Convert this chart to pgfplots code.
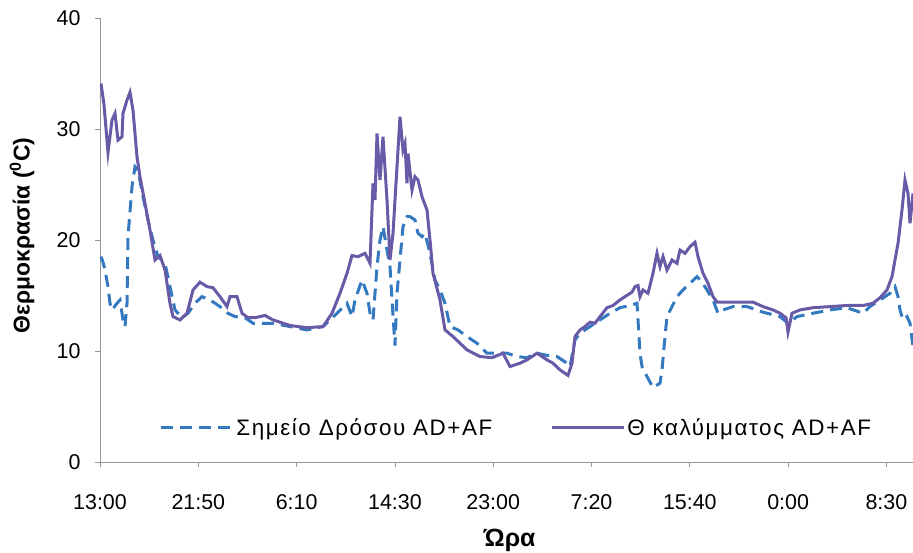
\documentclass[border=0pt]{standalone}
\usepackage{fontspec}
\setmainfont{Liberation Sans}
\usepackage{pgfplots}
\pgfplotsset{compat=1.18}
\definecolor{dewblue}{RGB}{52,120,192}
\definecolor{coverpurple}{RGB}{104,90,166}
\definecolor{axgray}{RGB}{150,150,150}
\begin{document}
\begin{tikzpicture}
\useasboundingbox (-100bp,-91bp) rectangle (813bp,462bp);
\begin{axis}[
  at={(0,0)}, anchor=south west,
  scale only axis, width=813bp, height=444bp,
  xmin=0, xmax=813, ymin=0, ymax=40,
  axis x line=bottom, axis y line=left,
  axis line style={-, axgray, line width=0.8bp},
  tick style={axgray, line width=0.8bp},
  tick align=outside, major tick length=5bp,
  xtick={0,98.3,196.6,294.9,393.2,491.5,589.8,688.1,786.4},
  xticklabels={13:00,21:50,6:10,14:30,23:00,7:20,15:40,0:00,8:30},
  ytick={0,10,20,30,40},
  /pgf/number format/assume math mode=true,
  tick label style={font=\fontsize{21.5}{25}\selectfont, black},
  xticklabel style={anchor=center, yshift=-35bp},
  yticklabel style={anchor=east, xshift=-11bp},
  xlabel={\textbf{Ώρα}},
  ylabel={\textbf{Θερμοκρασία (\textsuperscript{0}C)}},
  xlabel style={at={(axis description cs:0.504,-0.176)}, anchor=center, font=\fontsize{25}{29}\selectfont},
  ylabel style={at={(axis description cs:-0.0959,0.51)}, anchor=center, font=\fontsize{23}{27}\selectfont},
  legend columns=2,
  legend style={draw=none, fill=none, at={(axis description cs:0.512,0.077)}, anchor=center,
    font=\fontsize{22.5}{26}\selectfont\addfontfeature{LetterSpace=7},
    /tikz/every even column/.append style={column sep=56bp}},
  legend image code/.code={\draw[#1] (0bp,0bp) -- (72bp,0bp);},
]
\addplot[dewblue, line width=3bp, dash pattern=on 12bp off 7bp] coordinates {
(1,18.5)(3,18.0)(5,17.3)(8,15.8)(10,14.3)(12,13.7)(17,14.3)(20,14.6)(23,12.8)(25,12.2)
(27,14.3)(28,20.3)(32,24.8)(35,26.6)(38,26.3)(43,23.9)(48,21.8)(53,20.0)(58,18.5)(65,17.9)
(70,15.8)(75,13.7)(82,13.0)(88,13.4)(95,14.3)(102,14.9)(110,14.6)(120,14.0)(128,13.4)(135,13.1)
(145,13.0)(153,12.5)(173,12.5)(190,12.2)(207,11.9)(223,12.2)(237,13.4)(247,14.3)(252,13.1)(255,14.6)
(262,16.4)(267,15.2)(270,13.4)(273,12.8)(277,17.6)(280,20.0)(283,21.2)(287,19.1)(290,17.6)(292,14.6)
(295,10.5)(297,15.2)(300,18.2)(303,21.2)(307,22.1)(310,22.1)(315,21.8)(318,20.6)(322,20.3)(325,20.6)
(330,18.8)(335,16.4)(340,15.5)(345,14.3)(350,12.2)(358,11.9)(367,11.3)(377,10.7)(387,9.8)(397,9.8)
(407,9.8)(417,9.5)(427,9.4)(437,9.8)(447,9.6)(457,9.5)(467,8.9)(470,8.6)(475,11.0)(480,11.6)
(490,12.2)(500,12.8)(510,13.4)(520,13.9)(530,14.1)(537,14.3)(538,12.8)(540,9.8)(542,8.6)(547,7.7)
(553,6.7)(560,7.1)(562,8.3)(565,11.3)(567,13.1)(572,14.0)(577,14.9)(583,15.5)(590,16.1)(597,16.7)
(602,16.2)(607,15.5)(613,14.6)(618,13.4)(623,13.7)(633,14.0)(647,14.0)(663,13.5)(680,13.1)(688,12.5)
(697,13.1)(713,13.4)(730,13.7)(747,13.9)(763,13.4)(770,14.0)(780,14.6)(790,15.2)(795,15.8)(798,14.9)
(800,13.7)(803,12.8)(807,13.1)(810,12.5)(813,10.4)
};
\addlegendentry{Σημείο Δρόσου AD+AF}
\addplot[coverpurple, line width=3bp] coordinates {
(1,34.1)(4,32.2)(8,27.9)(12,30.8)(15,31.4)(18,29.0)(22,29.3)(23,31.4)(27,32.6)(30,33.3)
(33,31.7)(37,27.5)(40,25.7)(45,23.3)(50,20.9)(55,18.2)(60,18.6)(65,17.3)(70,14.3)(73,13.1)
(80,12.8)(87,13.4)(93,15.5)(100,16.2)(107,15.8)(113,15.7)(120,14.9)(127,14.0)(130,14.9)(137,14.9)
(142,13.4)(148,13.0)(155,13.0)(165,13.2)(173,12.8)(190,12.3)(207,12.1)(223,12.2)(232,13.4)(240,15.2)
(247,17.0)(252,18.6)(258,18.5)(265,18.8)(270,17.9)(273,25.1)(275,23.6)(277,29.6)(280,25.4)(283,29.3)
(287,23.6)(290,18.2)(293,20.6)(297,26.6)(300,31.1)(303,28.1)(305,28.7)(307,25.1)(308,27.8)(312,24.5)
(315,25.7)(318,25.4)(322,23.9)(327,22.7)(330,20.0)(333,17.0)(340,14.6)(345,11.9)(353,11.3)(367,10.1)
(380,9.5)(392,9.4)(403,9.8)(410,8.6)(420,8.9)(427,9.2)(437,9.8)(447,9.2)(453,8.9)(460,8.3)
(468,7.8)(472,8.9)(475,11.3)(480,11.9)(485,12.2)(490,12.6)(495,12.5)(500,13.1)(507,13.9)(513,14.1)
(520,14.6)(525,14.9)(532,15.3)(535,15.8)(538,15.9)(540,14.9)(543,15.5)(548,15.2)(553,17.0)(557,18.8)
(560,17.6)(563,18.5)(567,17.3)(572,18.2)(577,17.9)(580,19.1)(585,18.8)(590,19.4)(595,19.8)(598,18.5)
(603,17.0)(608,16.1)(613,14.9)(617,14.4)(623,14.4)(633,14.4)(643,14.4)(653,14.4)(663,14.0)(673,13.7)
(680,13.4)(686,13.0)(688,11.7)(692,13.4)(700,13.7)(713,13.9)(730,14.0)(747,14.1)(763,14.1)(773,14.3)
(780,14.8)(787,15.5)(792,16.7)(795,18.2)(798,19.7)(802,22.7)(805,25.4)(808,24.2)(810,21.5)(813,24.2)
};
\addlegendentry{Θ καλύμματος AD+AF}
\end{axis}
\end{tikzpicture}
\end{document}
